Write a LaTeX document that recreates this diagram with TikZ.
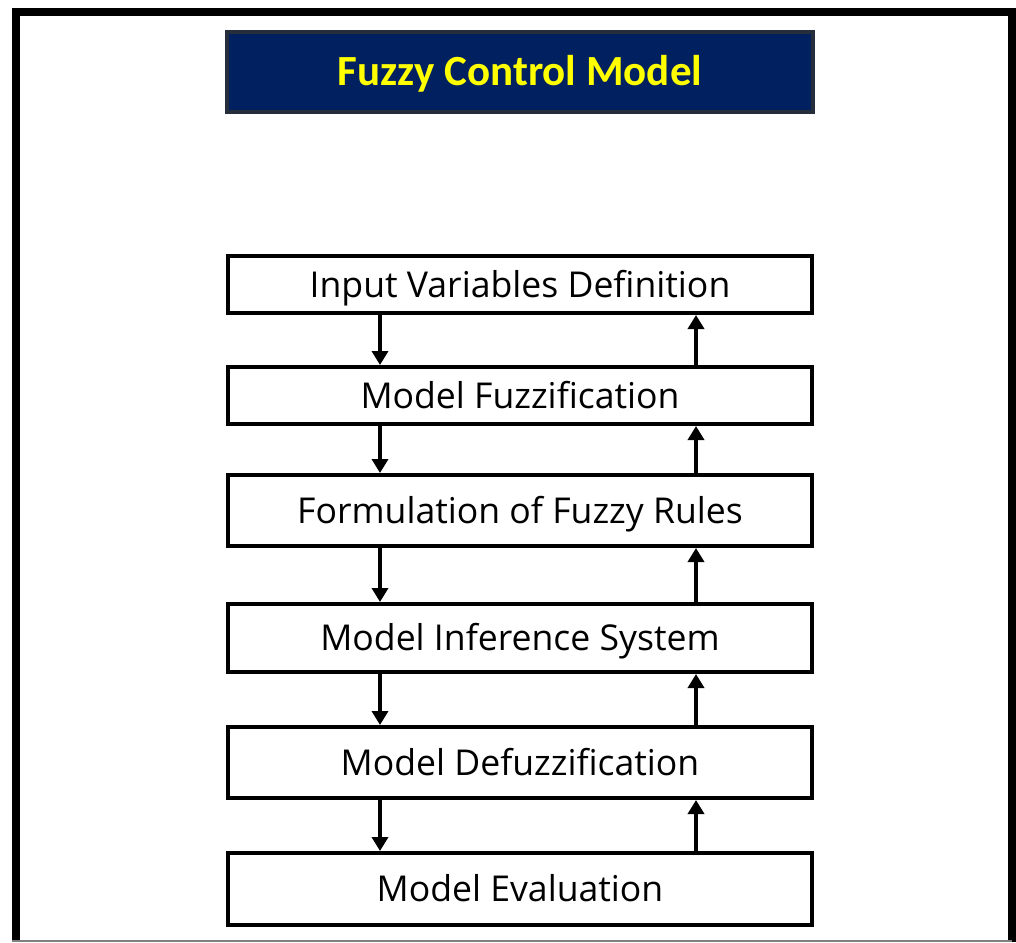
\documentclass[tikz,border=0pt]{standalone}
\usepackage{fontspec}
\setmainfont{Open Sans}
\newfontfamily\headfont{Carlito}
\usepackage{xcolor}
\usetikzlibrary{arrows.meta}
\definecolor{navy}{HTML}{002060}
\definecolor{navyedge}{HTML}{262D3B}
\definecolor{headyellow}{HTML}{FFFF00}
\tikzset{
    stagebox/.style={draw, line width=4pt, minimum width=584pt, inner sep=0pt,
        text height=25.5pt, text depth=0pt, font=\fontsize{35.6}{42}\selectfont},
    flow/.style={line width=4.5pt, -{Triangle[length=14pt,width=16pt]}}
}

\begin{document}
\begin{tikzpicture}[x=1pt, y=-1pt]
            \useasboundingbox (0,0) rectangle (1016,942);
            % frame
            \draw[line width=8pt] (16,942) -- (16,12) -- (1012,12) -- (1012,942);
            \draw[gray, line width=1.5pt] (12,941) -- (1012,941);
            % heading
            \node(title)[draw=navyedge, fill=navy, line width=4pt, minimum width=586pt, minimum height=80pt,
                inner sep=0pt, text height=27.5pt, text depth=0pt, text=headyellow,
                font=\headfont\bfseries\fontsize{43}{49}\selectfont] at (520,72) {Fuzzy Control Model};
            % stages
            \node(input)[stagebox, minimum height=57pt] at (520,284.5) {Input Variables Definition};
            \node(fuzz)[stagebox, minimum height=57pt] at (520,395.5) {Model Fuzzification};
            \node(rules)[stagebox, minimum height=71pt] at (520,510.5) {Formulation of Fuzzy Rules};
            \node(infer)[stagebox, minimum height=68pt] at (520,638) {Model Inference System};
            \node(defuzz)[stagebox, minimum height=71pt] at (520,762.5) {Model Defuzzification};
            \node(eval)[stagebox, minimum height=72pt] at (520,889) {Model Evaluation};
            % forward and feedback arrows
            \foreach \upper/\lower in {input/fuzz, fuzz/rules, rules/infer, infer/defuzz, defuzz/eval}{
                \draw[flow]([xshift=-140pt]\upper.south) -- ([xshift=-140pt]\lower.north);
                \draw[flow]([xshift=176pt]\lower.north) -- ([xshift=176pt]\upper.south);
            }
        \end{tikzpicture}
\end{document}
